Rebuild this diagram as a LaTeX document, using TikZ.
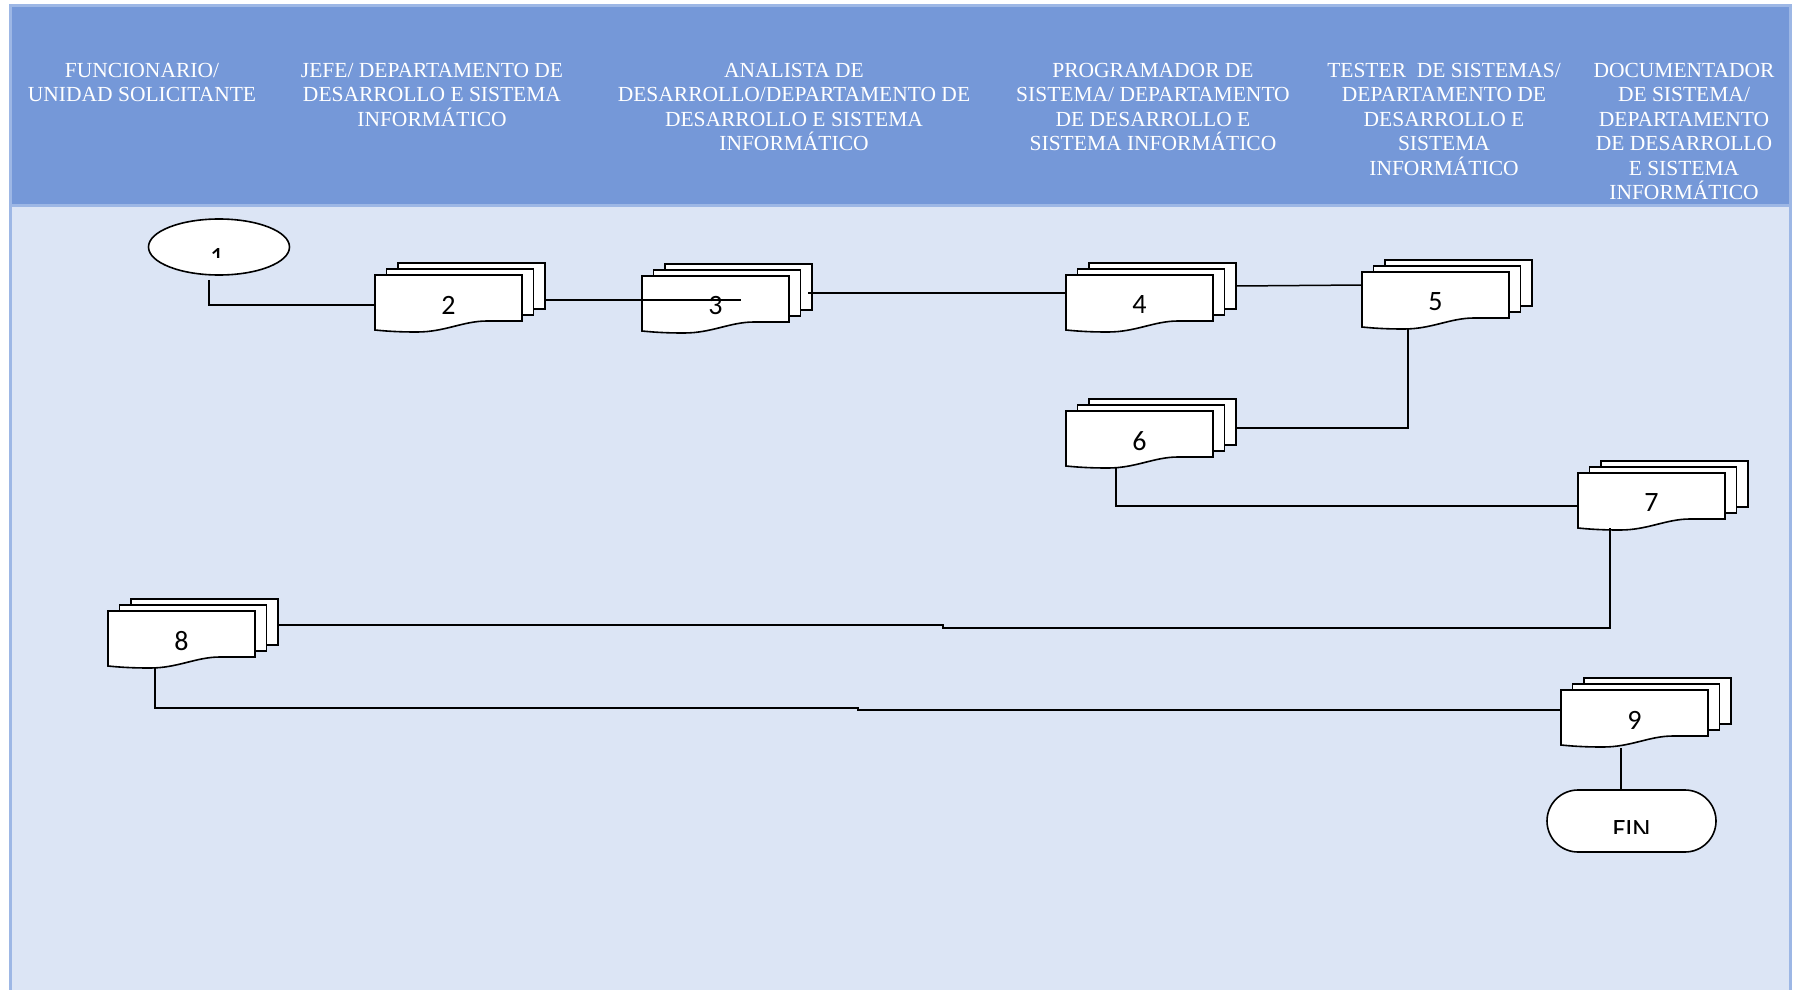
\documentclass[tikz,border=0pt]{standalone}
\usepackage{fontspec}
\setmainfont{Liberation Serif}
\newfontfamily\numfont{Carlito}
\usetikzlibrary{calc,shapes.geometric}
\definecolor{hdr}{RGB}{117,152,216}
\definecolor{bodyc}{RGB}{220,229,245}
\definecolor{frm}{RGB}{157,183,229}
\tikzset{
  hdrtext/.style={anchor=north, align=center, text=white, font=\fontsize{21.5}{24.4}\selectfont, inner sep=0pt},
  conn/.style={line width=1.5pt, draw=black},
  docshape/.style={draw=black, line width=1.6pt, fill=white},
  docbox/.style={minimum width=147pt, minimum height=46pt, anchor=north west, inner sep=0pt, outer sep=0pt},
  numlabel/.style={font=\numfont\fontsize{28}{32}\selectfont, inner sep=0pt},
}
\newcommand\mdoc[4]{%
  \node[docbox, docshape] (#1b) at (#2+23,#3-12) {};
  \node[docbox, docshape] (#1m) at (#2+11.5,#3-6) {};
  \node[docbox] (#1) at (#2,#3) {};
  \draw[docshape] (#2,#3) -- (#2+147,#3) -- (#2+147,#3+46) -- (#2+112,#3+46)
     .. controls (#2+88,#3+46) and (#2+70,#3+57) .. (#2+42,#3+57)
     .. controls (#2+22,#3+57) and (#2+10,#3+56) .. (#2,#3+55) -- cycle;
  \node[numlabel] (#1t) at (#2+73.5,#3+30) {#4};
}
\begin{document}
\begin{tikzpicture}[x=1pt,y=-1pt]
\useasboundingbox (0,0) rectangle (1799,990);
% frame
\fill[bodyc] (10.5,6) rectangle (1790,995);
\fill[hdr] (10.5,6) rectangle (1790,205.5);
\draw[frm, line width=3pt] (10.5,995) -- (10.5,6) -- (1790,6) -- (1790,995);
\draw[frm, line width=3pt] (10.5,205.5) -- (1790,205.5);
% headers
\node[hdrtext] (h1) at (142,63) {FUNCIONARIO/\\UNIDAD SOLICITANTE};
\node[hdrtext] (h2) at (432,63) {JEFE/ DEPARTAMENTO DE\\DESARROLLO E SISTEMA\\INFORMÁTICO};
\node[hdrtext] (h3) at (794,63) {ANALISTA DE\\DESARROLLO/DEPARTAMENTO DE\\DESARROLLO E SISTEMA\\INFORMÁTICO};
\node[hdrtext] (h4) at (1153,63) {PROGRAMADOR DE\\SISTEMA/ DEPARTAMENTO\\DE DESARROLLO E\\SISTEMA INFORMÁTICO};
\node[hdrtext] (h5) at (1444,63) {TESTER\ \ DE SISTEMAS/\\DEPARTAMENTO DE\\DESARROLLO E\\SISTEMA\\INFORMÁTICO};
\node[hdrtext] (h6) at (1684,63) {DOCUMENTADOR\\DE SISTEMA/\\DEPARTAMENTO\\DE DESARROLLO\\E SISTEMA\\INFORMÁTICO};
% start ellipse
\node[draw=black, line width=1.6pt, fill=white, ellipse, minimum width=141pt, minimum height=56pt, inner sep=0pt] (e1) at (219,247) {};
\begin{scope}
  \clip (150,230) rectangle (290,257);
  \node[numlabel, anchor=base] (e1t) at (217,266) {1};
\end{scope}
% documents
\mdoc{n2}{375}{275}{2}
\mdoc{n3}{642}{276}{3}
\mdoc{n4}{1066}{275}{4}
\mdoc{n5}{1362}{272}{5}
\mdoc{n6}{1066}{411}{6}
\mdoc{n7}{1578}{473}{7}
\mdoc{n8}{108}{611}{8}
\mdoc{n9}{1561}{690}{9}
% end terminal
\node[draw=black, line width=1.6pt, fill=white, rounded corners=31pt, minimum width=169pt, minimum height=62pt, inner sep=0pt] (fin) at (1631.5,821) {};
\begin{scope}
  \clip (1560,800) rectangle (1700,833);
  \node[numlabel, anchor=base] (fint) at (1631.5,838) {FIN};
\end{scope}
% connectors
\coordinate (n3m1) at ([xshift=25pt,yshift=-1pt]n3.center);
\coordinate (j7) at (943,628);
\coordinate (j8) at (858,708);
\draw[conn] ([xshift=-10pt,yshift=-4pt]e1.south) |- ([yshift=-7pt]n2.west);
\draw[conn] ([yshift=-14pt]n2b.east) -- (n3m1);
\draw[conn] ([xshift=-4pt,yshift=-6pt]n3b.east) -- ([yshift=5pt]n4.west);
\draw[conn] (n4b.east) -- ([yshift=10pt]n5.west);
\draw[conn] ([xshift=-27.5pt,yshift=-10pt]n5.south) |- ([yshift=-6pt]n6b.east);
\draw[conn] ([xshift=-23.5pt,yshift=-10pt]n6.south) |- ([yshift=-10pt]n7.west);
\draw[conn] ([xshift=-41.5pt,yshift=-9pt]n7.south) |- (j7) |- ([yshift=-3pt]n8b.east);
\draw[conn] ([xshift=-26.5pt,yshift=-10pt]n8.south) |- (j8) |- ([yshift=3pt]n9.west);
\draw[conn] ([xshift=-13.5pt,yshift=-12pt]n9.south) -- ([xshift=-10.5pt]fin.north);
\end{tikzpicture}
\end{document}
